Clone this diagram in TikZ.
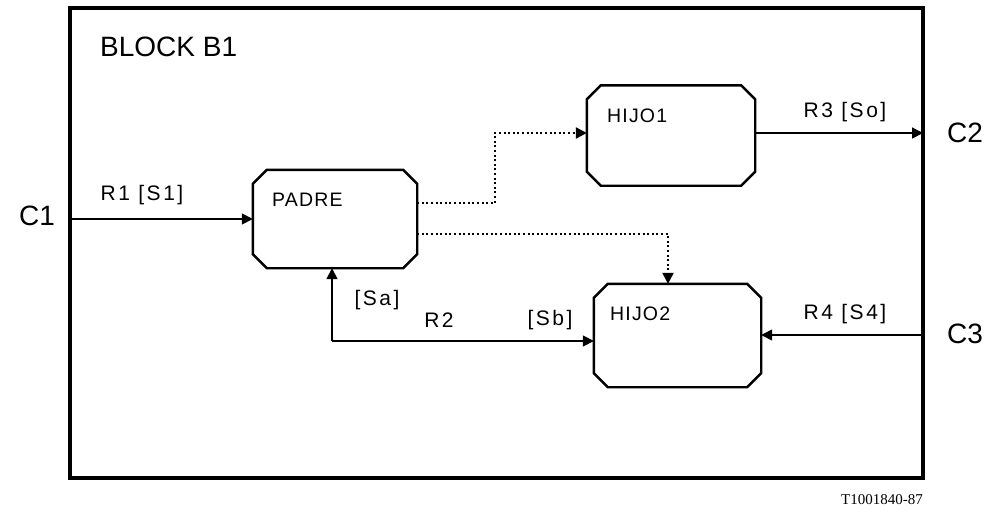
\documentclass[tikz,border=0pt]{standalone}
\usepackage{fontspec}
\setmainfont{Liberation Sans}
\newfontfamily\labfont[LetterSpace=12]{Liberation Sans}
\newfontfamily\boxfont[LetterSpace=6]{Liberation Sans}
\newfontfamily\notefont{Liberation Serif}
\usetikzlibrary{arrows.meta,calc}
\tikzset{
  boxnode/.style={rectangle, draw=none, inner sep=0pt},
  boxline/.style={line width=2.4pt, line join=miter},
  frameline/.style={line width=3.5pt},
  arr/.style={line width=1.6pt, -{Triangle[length=11pt,width=11pt]}},
  dotarr/.style={line width=2.3pt, dash pattern=on 2pt off 2.6pt, -{Triangle[length=11pt,width=11pt]}},
  big/.style={font=\fontsize{28}{30}\selectfont, inner sep=0pt},
  lab/.style={font=\labfont\fontsize{21}{23}\selectfont, inner sep=0pt},
  boxtext/.style={font=\boxfont\fontsize{19.5}{21}\selectfont, inner sep=0pt, anchor=west},
}
\newcommand\chambox[2]{%
  \draw[boxline] ([xshift=#2]#1.north west) -- ([xshift=-#2]#1.north east) --
    ([yshift=-#2]#1.north east) -- ([yshift=#2]#1.south east) --
    ([xshift=-#2]#1.south east) -- ([xshift=#2]#1.south west) --
    ([yshift=#2]#1.south west) -- ([yshift=-#2]#1.north west) -- cycle;}
\begin{document}
\begin{tikzpicture}[x=1pt,y=-1pt]
\useasboundingbox (0,0) rectangle (987,515);
% frame
\node[boxnode, minimum width=853pt, minimum height=470pt] (frame) at (496.5,243) {};
\draw[frameline] (frame.north west) rectangle (frame.south east);
\node[big, anchor=west] (title) at (100,47) {BLOCK B1};
% boxes
\node[boxnode, minimum width=164pt, minimum height=98pt] (P) at (335,219) {};
\node[boxnode, minimum width=168pt, minimum height=100pt] (H1) at (671,135.5) {};
\node[boxnode, minimum width=167pt, minimum height=103pt] (H2) at (677.5,335.5) {};
\chambox{P}{14pt}
\chambox{H1}{14pt}
\chambox{H2}{14pt}
\node[boxtext] (tP) at (272,200) {PADRE};
\node[boxtext] (tH1) at (607,115.5) {HIJO1};
\node[boxtext] (tH2) at (610,314) {HIJO2};
% channel end points on the frame
\coordinate (c1) at (70,219);
\coordinate (c2) at (923,133);
\coordinate (c3) at (923,335);
\coordinate (r2) at (332,341);
\coordinate (d1) at (495,203);
\coordinate (d2) at (668,234);
% connectors
\draw[arr] (c1) -- (c1 -| P.west);
\draw[arr] (c2 -| H1.east) -- (c2);
\draw[arr] (c3) -- (c3 -| H2.east);
\draw[arr] (r2) -- (r2 |- P.south);
\draw[arr] (r2) -- (r2 -| H2.west);
\draw[dotarr] (d1 -| P.east) -- (d1) -- (d1 |- c2) -- (c2 -| H1.west);
\draw[dotarr] (d2 -| P.east) -- (d2) -- (d2 |- H2.north);
% labels
\node[big] (C1) at (37,216) {C1};
\node[big] (C2) at (965,133) {C2};
\node[big] (C3) at (965,334) {C3};
\node[lab] (lR1) at (142,195) {R1 [S1]};
\node[lab] (lR3) at (845,112) {R3 [So]};
\node[lab] (lR4) at (845,314) {R4 [S4]};
\node[lab] (lSa) at (377,300) {[Sa]};
\node[lab] (lR2) at (439,320) {R2};
\node[lab] (lSb) at (550,320) {[Sb]};
\node[font=\notefont\fontsize{15}{16}\selectfont, inner sep=0pt] (ref) at (882,500) {T1001840-87};
\end{tikzpicture}
\end{document}
